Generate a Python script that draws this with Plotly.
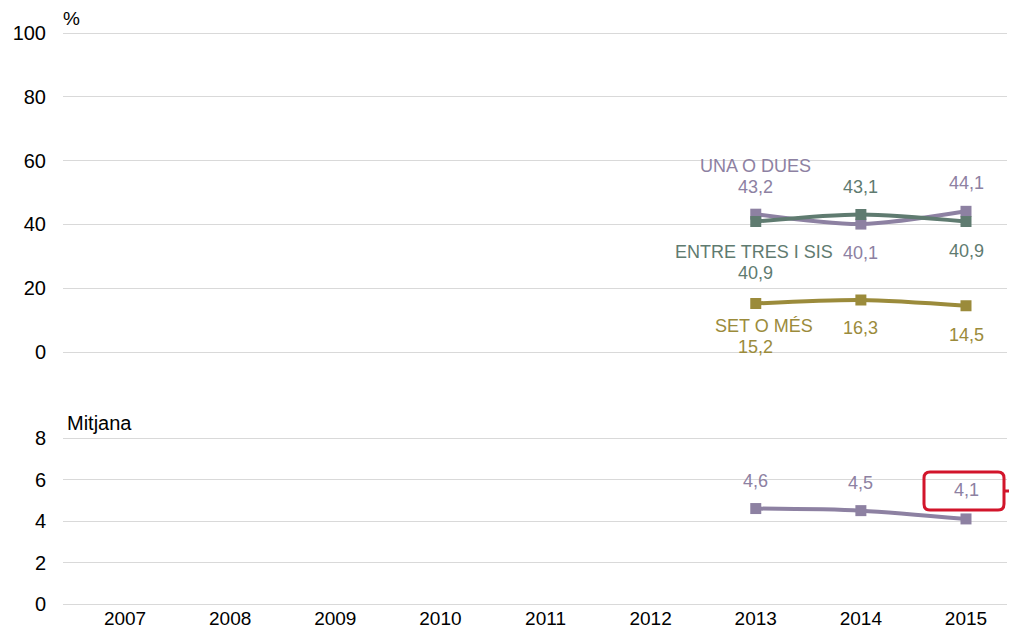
import plotly.graph_objects as go

years = [2013, 2014, 2015]
tick_years = [2007, 2008, 2009, 2010, 2011, 2012, 2013, 2014, 2015]

una_o_dues = [43.2, 40.1, 44.1]
entre_tres_i_sis = [40.9, 43.1, 40.9]
set_o_mes = [15.2, 16.3, 14.5]
mitjana = [4.6, 4.5, 4.1]

C_PURPLE = "#8D81A2"
C_GREEN = "#5F7B70"
C_OLIVE = "#9B8B3B"
C_RED = "#D2152B"
FONT = "Liberation Sans, Arial, sans-serif"

fig = go.Figure()

def add_series(y, color, yaxis):
    fig.add_trace(go.Scatter(
        x=years, y=y, mode="lines+markers",
        line=dict(color=color, width=4, shape="spline", smoothing=0.8),
        marker=dict(symbol="square", size=11, color=color),
        xaxis="x" if yaxis == "y" else "x2", yaxis=yaxis,
        showlegend=False, hoverinfo="skip"))

add_series(una_o_dues, C_PURPLE, "y")
add_series(entre_tres_i_sis, C_GREEN, "y")
add_series(set_o_mes, C_OLIVE, "y")
add_series(mitjana, C_PURPLE, "y2")

def fmt(v):
    return f"{v:.1f}".replace(".", ",")

ann = []
def lab(x, y, text, color, yshift, xref="x", yref="y", xshift=0):
    ann.append(dict(x=x, y=y, xref=xref, yref=yref, text=text, showarrow=False,
                    font=dict(family=FONT, size=18, color=color),
                    yshift=yshift, xshift=xshift))

# purple
lab(years[0], una_o_dues[0], fmt(una_o_dues[0]), C_PURPLE, 27)
lab(years[0], una_o_dues[0], "UNA O DUES", C_PURPLE, 48)
lab(years[1], una_o_dues[1], fmt(una_o_dues[1]), C_PURPLE, -29)
lab(years[2], una_o_dues[2], fmt(una_o_dues[2]), C_PURPLE, 28)
# green
lab(years[0], entre_tres_i_sis[0], fmt(entre_tres_i_sis[0]), C_GREEN, -51)
lab(years[0], entre_tres_i_sis[0], "ENTRE TRES I SIS", C_GREEN, -30, xshift=-2)
lab(years[1], entre_tres_i_sis[1], fmt(entre_tres_i_sis[1]), C_GREEN, 28)
lab(years[2], entre_tres_i_sis[2], fmt(entre_tres_i_sis[2]), C_GREEN, -29)
# olive
lab(years[0], set_o_mes[0], fmt(set_o_mes[0]), C_OLIVE, -43)
lab(years[0], set_o_mes[0], "SET O MÉS", C_OLIVE, -22, xshift=8)
lab(years[1], set_o_mes[1], fmt(set_o_mes[1]), C_OLIVE, -28)
lab(years[2], set_o_mes[2], fmt(set_o_mes[2]), C_OLIVE, -29)
# mitjana
for i in range(2):
    lab(years[i], mitjana[i], fmt(mitjana[i]), C_PURPLE, 28, xref="x2", yref="y2")
lab(years[2], mitjana[2], fmt(mitjana[2]), C_PURPLE, 29, xref="x2", yref="y2")

M_T, M_B, M_L, M_R = 30, 24, 63, 2
PH = 630 - M_T - M_B
PW = 1009 - M_L - M_R

def X(px):
    return (px - M_L) / PW
def Y(py):
    return (630 - M_B - py) / PH

ann.append(dict(x=0.0, y=Y(33), xref="paper", yref="paper", text="%", showarrow=False,
                xanchor="left", yanchor="bottom", yshift=2, xshift=-2,
                font=dict(family=FONT, size=19, color="#000")))
ann.append(dict(x=0.0, y=Y(438), xref="paper", yref="paper", text="Mitjana", showarrow=False,
                xanchor="left", yanchor="bottom", yshift=2, xshift=2,
                font=dict(family=FONT, size=20, color="#000")))
fig.update_layout(annotations=ann)

# red highlight box around last mitjana value
x0, x1, y0, y1, r = 924, 1004, 472, 510, 6
path = (f"M {X(x0+r)},{Y(y0)} L {X(x1-r)},{Y(y0)} Q {X(x1)},{Y(y0)} {X(x1)},{Y(y0+r)} "
        f"L {X(x1)},{Y(y1-r)} Q {X(x1)},{Y(y1)} {X(x1-r)},{Y(y1)} "
        f"L {X(x0+r)},{Y(y1)} Q {X(x0)},{Y(y1)} {X(x0)},{Y(y1-r)} "
        f"L {X(x0)},{Y(y0+r)} Q {X(x0)},{Y(y0)} {X(x0+r)},{Y(y0)} Z")
fig.add_shape(type="path", xref="paper", yref="paper", path=path,
              line=dict(color=C_RED, width=3), fillcolor="rgba(0,0,0,0)")
fig.add_shape(type="line", xref="paper", yref="paper",
              x0=X(x1), x1=X(1012), y0=Y(491), y1=Y(491),
              line=dict(color=C_RED, width=3))

# ranges padded by ~1px so edge gridlines are drawn
top_ppu = (352 - 33) / 100
bot_ppu = (604 - 438) / 8
pad_top = 1.1 / top_ppu
pad_bot = 1.1 / bot_ppu
top_domain = [Y(352 + 1.1), Y(33 - 1.1)]
bot_domain = [Y(604 + 1.1), Y(438 - 1.1)]

xr = [2006.41, 2015.39]
common_x = dict(range=xr, tickmode="array", tickvals=tick_years,
                ticktext=[str(t) for t in tick_years], showgrid=False,
                zeroline=False, showline=False, ticks="", automargin=False,
                tickfont=dict(family=FONT, size=19, color="#000"))
common_y = dict(gridcolor="#D9D9D9", gridwidth=1, zeroline=False, showline=False,
                ticks="", ticklabelstandoff=16, automargin=False,
                tickfont=dict(family=FONT, size=20, color="#000"))
fig.update_layout(
    width=1009, height=630,
    margin=dict(l=M_L, r=M_R, t=M_T, b=M_B),
    paper_bgcolor="white", plot_bgcolor="white",
    xaxis=dict(**common_x, anchor="y", showticklabels=False),
    xaxis2=dict(**common_x, anchor="y2", showticklabels=True, ticklabelstandoff=0),
    yaxis=dict(domain=top_domain, range=[-pad_top, 100 + pad_top],
               tickvals=[0, 20, 40, 60, 80, 100], **common_y),
    yaxis2=dict(domain=bot_domain, range=[-pad_bot, 8 + pad_bot],
                tickvals=[0, 2, 4, 6, 8], **common_y),
)

fig.write_html("out.html", config={"displayModeBar": False},
               post_script="document.body.style.margin='0';document.body.style.overflow='hidden';")
